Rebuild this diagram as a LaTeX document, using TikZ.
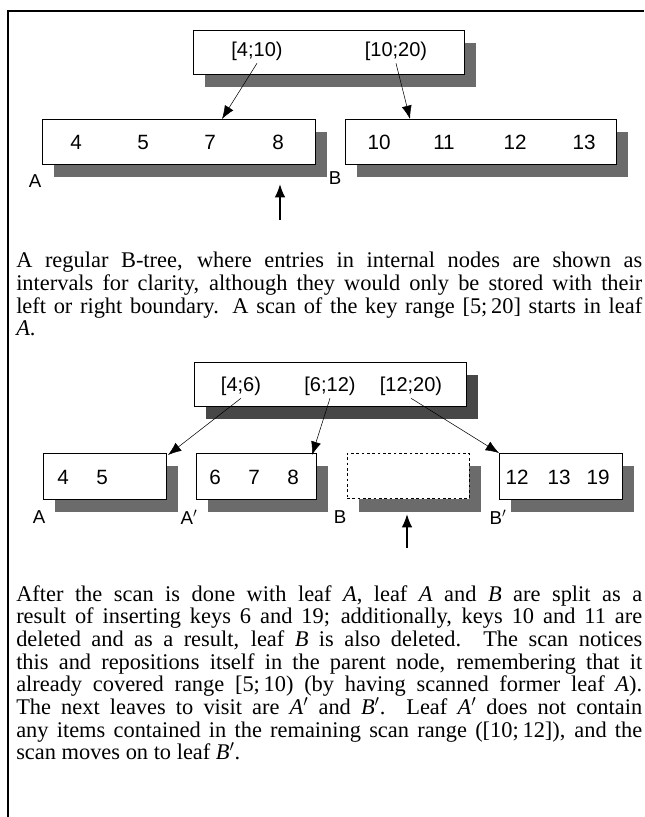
\documentclass[tikz,border=0pt]{standalone}
\usepackage{fontspec}
\setmainfont{Liberation Serif}
\newfontfamily\helv{Liberation Sans}
\usetikzlibrary{arrows.meta,shadows}

\tikzset{
  keybox/.style={draw, fill=white, inner sep=0pt, minimum height=#1,
    drop shadow={shadow xshift=9pt, shadow yshift=-9.75pt, fill=black!58, opacity=1}},
  keybox/.default=34pt,
  gonebox/.style={keybox, dash pattern=on 2pt off 2pt},
  key/.style={font=\helv\fontsize{15.5}{15.5}\selectfont},
  ival/.style={font=\helv\fontsize{15}{15}\selectfont, inner sep=2pt},
  leafname/.style={font=\helv\fontsize{14}{14}\selectfont, inner sep=0pt},
  ptr/.style={-{Latex[length=10pt,width=7.5pt]}, thin},
  scanptr/.style={-{Latex[length=10pt,width=8pt]}, line width=1.4pt},
  caption/.style={anchor=north west, inner sep=0pt, text width=469.5pt, align=justify,
    font=\fontsize{16.8}{17}\selectfont}
}

\begin{document}
\begin{tikzpicture}[x=0.75pt, y=-0.75pt]
  \useasboundingbox (0,0) rectangle (644,817);
  \draw[line width=0.8pt] (8,817) -- (8,11) -- (644,11);

  % before the scan
  \node[keybox=33pt, minimum width=203.25pt] (root) at (328.5,52) {};
  \node[ival] (k1) at (257,51) {[4;10)};
  \node[ival] (k2) at (396,51) {[10;20)};
  \node[keybox, minimum width=204.75pt] (la) at (178.5,141.5) {};
  \node[keybox, minimum width=203.25pt] (lb) at (480.5,141.5) {};
  \foreach \v/\x in {4/76, 5/143, 7/210, 8/278, 10/379, 11/444, 12/515, 13/584}
    \node[key] (n\v) at (\x,142) {\v};
  \node[leafname] (na) at (35,181) {A};
  \node[leafname] (nb) at (335,178) {B};
  \coordinate (ta) at (222,119);
  \coordinate (tb) at (410,119);
  \draw[ptr] (k1.south) -- (ta);
  \draw[ptr] (k2.south) -- (tb);
  \coordinate (s1) at (280,220);
  \coordinate (c1) at (280,184);
  \draw[scanptr] (s1) -- (c1);

  \node[caption] (cap1) at (16,252) {A regular B-tree, where entries in internal nodes are shown as\linebreak
    intervals for clarity, although they would only be stored with their\linebreak
    left or right boundary. A scan of the key range [5;\,20] starts in leaf\linebreak
    \textit{A}.};

  % after the splits
  \node[keybox=33pt, minimum width=204pt, drop shadow={shadow xshift=9pt, shadow yshift=-9.75pt, fill=black!72, opacity=1}] (root2) at (330,384) {};
  \node[ival] (m1) at (241,386) {[4;6)};
  \node[ival] (m2) at (330,386) {[6;12)};
  \node[ival] (m3) at (411,386) {[12;20)};
  \node[keybox=34.5pt, minimum width=92.25pt] (xa) at (104.5,476) {};
  \node[keybox=34.5pt, minimum width=90pt] (xa2) at (256,476) {};
  \node[gonebox=34.5pt, minimum width=91.5pt] (xb) at (408,476) {};
  \node[keybox=34.5pt, minimum width=92.25pt] (xb2) at (560.5,476) {};
  \foreach \v/\x in {4/63, 5/102, 6/215, 7/254, 8/293, 12/517, 13/559, 19/598}
    \node[key] (p\v) at (\x,477) {\v};
  \node[leafname] (qa) at (39,517) {A};
  \node[leafname] (qa2) at (189,517) {A$'$};
  \node[leafname] (qb) at (340,517) {B};
  \node[leafname] (qb2) at (498,517) {B$'$};
  \coordinate (ua) at (168,455);
  \coordinate (ua2) at (312,455);
  \coordinate (ub2) at (499,453);
  \draw[ptr] (m1.south) -- (ua);
  \draw[ptr] (m2.south) -- (ua2);
  \draw[ptr] (m3.south) -- (ub2);
  \coordinate (s2) at (407,548);
  \coordinate (c2) at (407,514);
  \draw[scanptr] (s2) -- (c2);

  \node[caption] (cap2) at (16,585) {After the scan is done with leaf \textit{A}, leaf \textit{A} and \textit{B} are split as a\linebreak
    result of inserting keys 6 and 19; additionally, keys 10 and 11 are\linebreak
    deleted and as a result, leaf \textit{B} is also deleted.  The scan notices\linebreak
    this and repositions itself in the parent node, remembering that it\linebreak
    already covered range [5;\,10) (by having scanned former leaf \textit{A}).\linebreak
    The next leaves to visit are \textit{A}$'$ and \textit{B}$'$.  Leaf \textit{A}$'$ does not contain\linebreak
    any items contained in the remaining scan range ([10;\,12]), and the\linebreak
    scan moves on to leaf \textit{B}$'$.};
\end{tikzpicture}
\end{document}
